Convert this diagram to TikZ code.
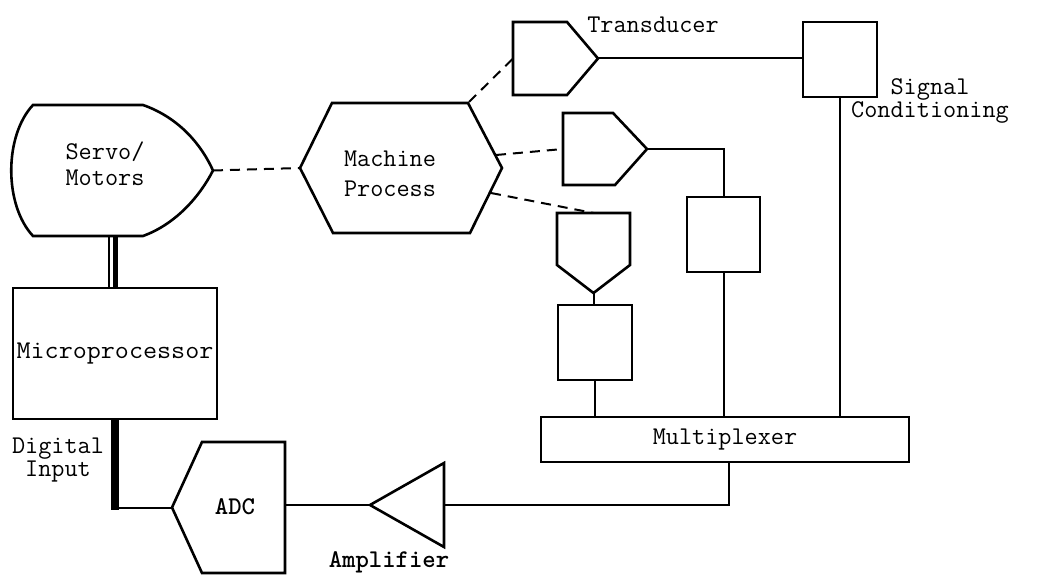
\documentclass[tikz,border=0pt]{standalone}
\usetikzlibrary{calc}
\tikzset{
  frame/.style={draw=none, inner sep=0pt, outer sep=0pt},
  outline/.style={line width=2.6pt, line join=miter},
  box/.style={draw, line width=2.6pt, inner sep=0pt, outer sep=0pt},
  conn/.style={line width=2pt},
  link/.style={line width=2pt, dash pattern=on 10pt off 7pt},
  lbl/.style={font=\ttfamily\fontsize{25.5}{26}\selectfont, align=center, inner sep=0pt},
  blbl/.style={lbl, font=\ttfamily\bfseries\fontsize{25.5}{26}\selectfont},
}
\begin{document}
\begin{tikzpicture}[x=1pt,y=-1pt]
\useasboundingbox (0,0) rectangle (1039,577);

% ---- servo / motors
\node[frame, minimum width=201pt, minimum height=131pt] (sv) at (112.5,170.5) {};
\draw[outline] (33,105) -- (143,105) .. controls (180,118) and (202,146) .. (sv.east)
  .. controls (200,196) and (176,224) .. (143,236) -- (33,236)
  .. controls (4,205) and (4,136) .. (33,105) -- cycle;
\node[lbl] at (105,164) {Servo/\\Motors};

% ---- machine process
\node[frame, minimum width=202pt, minimum height=130pt] (mp) at (401,168) {};
\draw[outline] (mp.west) -- (332,103) -- (468,103) -- (mp.east) -- (470,233) -- (333,233) -- cycle;
\node[lbl, font=\ttfamily\fontsize{25.5}{30}\selectfont] at (390,174) {Machine\\Process};

% ---- microprocessor
\node[box, lbl, minimum width=204pt, minimum height=131pt] (micro) at (115,353.5) {\scalebox{1.07}[1]{Microprocessor}};

% ---- transducers and signal conditioning
\node[frame, minimum width=85pt, minimum height=73pt] (t1) at (555.5,58.5) {};
\draw[outline] (513,22) -- (567,22) -- (t1.east) -- (567,95) -- (513,95) -- cycle;
\node[lbl] at (653,25) {Transducer};

\node[box, minimum width=74pt, minimum height=75pt] (sc) at (840,59.5) {};
\node[lbl, font=\ttfamily\fontsize{25.5}{23}\selectfont] at (930,101) {Signal\\Conditioning};

\node[frame, minimum width=84pt, minimum height=72pt] (t2) at (605,149) {};
\draw[outline] (563,113) -- (613,113) -- (t2.east) -- (615,185) -- (563,185) -- cycle;
\node[box, minimum width=73pt, minimum height=75pt] (b2) at (723.5,234.5) {};

\node[frame, minimum width=73pt, minimum height=80pt] (t3) at (593.5,253) {};
\draw[outline] (557,213) -- (630,213) -- (630,265) -- (t3.south) -- (557,265) -- cycle;
\node[box, minimum width=74pt, minimum height=75pt] (b3) at (595,342.5) {};

% ---- multiplexer, amplifier, ADC
\node[box, lbl, minimum width=368pt, minimum height=45pt] (mux) at (725,439.5) {Multiplexer};

\node[frame, minimum width=74pt, minimum height=84pt] (amp) at (407,505) {};
\draw[outline] (444,463) -- (444,547) -- (amp.west) -- cycle;
\node[blbl] at (389,562) {Amplifier};

\node[frame, minimum width=113pt, minimum height=131pt] (adc) at (228.5,507.5) {};
\draw[outline] (202,442) -- (285,442) -- (285,573) -- (202,573) -- (adc.west) -- cycle;
\node[blbl] at (235,507) {ADC};

\node[lbl, font=\ttfamily\fontsize{25.5}{23}\selectfont] at (58,460) {Digital\\Input};

% ---- dashed couplings from the process
\coordinate (mpA) at (469,102);
\coordinate (mpB) at (496,155);
\coordinate (mpC) at (491,193);
\draw[link] (sv.east) -- (mp.west);
\draw[link] (mpA) -- (t1.west);
\draw[link] (mpB) -- (t2.west);
\draw[link] (mpC) -- (t3.north);

% ---- signal wiring
\draw[conn] (t1.east) -- (t1.east -| sc.west);
\draw[conn] (sc.south) -- (sc.south |- mux.north);
\draw[conn] (t2.east) -| (b2.north);
\draw[conn] (b2.south) -- (b2.south |- mux.north);
\draw[conn] (t3.south) -- (t3.south |- b3.north);
\draw[conn] (b3.south) -- (b3.south |- mux.north);
\coordinate (muxout) at ([xshift=4pt]mux.south);
\draw[conn] (muxout) |- (amp.east);
\draw[conn] (amp.west) -- (amp.west -| adc.east);

% ---- digital buses
\draw[line width=5pt] ([xshift=2.5pt]sv.south) -- ([xshift=2.5pt]sv.south |- micro.north);
\draw[line width=1.3pt] ([xshift=-3.5pt]sv.south) -- ([xshift=-3.5pt]sv.south |- micro.north);
\coordinate (busend) at ([yshift=-2pt]micro.south |- adc.west);
\draw[line width=8pt] (micro.south) -- (busend);
\draw[conn] (micro.south |- adc.west) -- (adc.west);
\end{tikzpicture}
\end{document}
